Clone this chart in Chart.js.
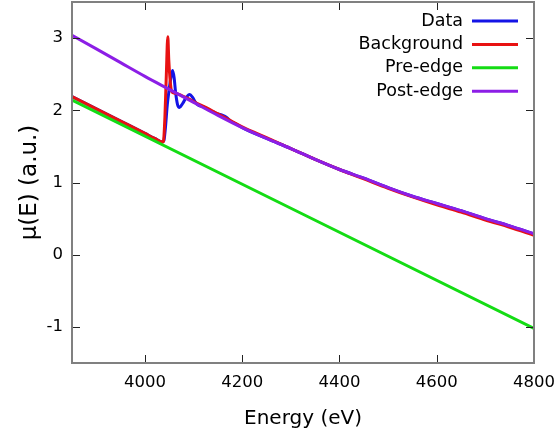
<!DOCTYPE html>
<html>
<head>
<meta charset="utf-8">
<script src="https://cdn.jsdelivr.net/npm/chart.js@4/dist/chart.umd.min.js"></script>
<style>
  body { margin: 0; background: #fff; }
</style>
</head>
<body>
<canvas id="xasChart" width="560" height="436"></canvas>
<script>
// tick values
var xTickVals = [4000, 4200, 4400, 4600, 4800];
var yTickVals = [-1, 0, 1, 2, 3];

var dataE = [3850, 3900, 3950, 4000, 4020, 4036, 4039, 4042, 4046, 4050, 4054, 4057, 4060, 4063, 4067, 4071,
    4078, 4085, 4092, 4098, 4104, 4110, 4120, 4130, 4140, 4150, 4160, 4168, 4176, 4190, 4200,
    4250, 4300, 4350, 4400, 4450, 4500, 4550, 4600, 4650, 4700, 4750, 4800];
var dataMu = [2.19, 2.02, 1.85, 1.68, 1.61, 1.56, 1.58, 1.75, 2.08, 2.30, 2.48, 2.55, 2.45, 2.25, 2.08, 2.04,
    2.10, 2.18, 2.22, 2.18, 2.11, 2.07, 2.05, 2.01, 1.98, 1.95, 1.93, 1.90, 1.85, 1.80, 1.76,
    1.61, 1.47, 1.32, 1.18, 1.06, 0.93, 0.81, 0.71, 0.61, 0.50, 0.40, 0.29];

// background
var bkgE = [3850, 3900, 3950, 4000, 4020, 4036, 4038, 4041, 4044, 4047, 4049, 4052, 4055, 4060, 4070,
    4080, 4090, 4100, 4125, 4150, 4175, 4200, 4250, 4300, 4350, 4400, 4450, 4500, 4550, 4600,
    4650, 4700, 4750, 4800];
var bkgMu = [2.19, 2.02, 1.85, 1.68, 1.61, 1.56, 1.57, 1.90, 2.50, 3.02, 2.70, 2.40, 2.26, 2.24, 2.22,
    2.19, 2.16, 2.12, 2.04, 1.95, 1.86, 1.77, 1.62, 1.47, 1.32, 1.18, 1.05, 0.92, 0.80, 0.69,
    0.59, 0.48, 0.38, 0.27];

// pre-edge line
var preE = [3850, 4800];
var preMu = [2.14, -1.02];

// post-edge curve
var postE = [3850, 3900, 3950, 4000, 4050, 4100, 4150, 4200, 4250, 4300, 4350, 4400, 4450, 4500,
    4550, 4600, 4650, 4700, 4750, 4800];
var postMu = [3.04, 2.85, 2.66, 2.47, 2.29, 2.11, 1.93, 1.76, 1.61, 1.47, 1.32, 1.18, 1.06, 0.93,
    0.81, 0.71, 0.61, 0.50, 0.40, 0.29];

function toPoints(xs, ys) {
    var pts = [];
    for (var i = 0; i < xs.length; i++) {
        pts.push({x: xs[i], y: ys[i]});
    }
    return pts;
}

function series(label, xs, ys, color, order) {
    return {
        label: label,
        data: toPoints(xs, ys),
        borderColor: color,
        backgroundColor: color,
        borderWidth: 3,
        pointRadius: 0,
        cubicInterpolationMode: 'monotone',
        order: order
    };
}

// no extra room for half tick labels, the box is placed by hand
function noPad(scale) {
    scale.paddingTop = 0;
    scale.paddingBottom = 0;
    scale.paddingLeft = 0;
    scale.paddingRight = 0;
}

// gnuplot style box: grey border, inward ticks on all four sides, key top right
var framePlugin = {
    id: 'frame',
    afterDatasetsDraw(chart) {
        var ctx = chart.ctx;
        var a = chart.chartArea;
        var xs = chart.scales.x, ys = chart.scales.y;
        ctx.save();
        ctx.strokeStyle = '#222';
        ctx.lineWidth = 1;
        ctx.beginPath();
        xTickVals.forEach(function (v) {
            var px = Math.round(xs.getPixelForValue(v)) + 0.5;
            ctx.moveTo(px, a.bottom); ctx.lineTo(px, a.bottom - 8);
            ctx.moveTo(px, a.top); ctx.lineTo(px, a.top + 8);
        });
        yTickVals.forEach(function (v) {
            var py = Math.round(ys.getPixelForValue(v)) + 0.5;
            ctx.moveTo(a.left, py); ctx.lineTo(a.left + 8, py);
            ctx.moveTo(a.right, py); ctx.lineTo(a.right - 8, py);
        });
        ctx.stroke();
        ctx.strokeStyle = '#808080';
        ctx.lineWidth = 2;
        ctx.strokeRect(a.left, a.top, a.right - a.left, a.bottom - a.top);

        // key
        ctx.font = '17.5px "DejaVu Sans"';
        ctx.textAlign = 'right';
        ctx.textBaseline = 'middle';
        chart.data.datasets.forEach(function (ds, i) {
            var yy = 21 + i * 23.4;
            ctx.fillStyle = '#000';
            ctx.fillText(ds.label, 463, yy);
            ctx.strokeStyle = ds.borderColor;
            ctx.lineWidth = 3;
            ctx.beginPath();
            ctx.moveTo(472, yy);
            ctx.lineTo(518, yy);
            ctx.stroke();
        });
        ctx.restore();
    }
};

var ctx = document.getElementById('xasChart').getContext('2d');
var chart = new Chart(ctx, {
    type: 'line',
    data: {
        datasets: [
            series('Data', dataE, dataMu, '#1414e6', 4),
            series('Background', bkgE, bkgMu, '#e81212', 3),
            series('Pre-edge', preE, preMu, '#14dc14', 2),
            series('Post-edge', postE, postMu, '#8c1ee6', 1)
        ]
    },
    options: {
        responsive: false,
        animation: false,
        devicePixelRatio: 1,
        layout: {padding: {top: 2, right: 26, left: 0, bottom: 0}},
        plugins: {
            legend: {display: false},
            tooltip: {enabled: false}
        },
        scales: {
            x: {
                type: 'linear',
                min: 3850,
                max: 4800,
                grid: {display: false, drawTicks: false},
                border: {display: false},
                afterBuildTicks: function (scale) {
                    scale.ticks = xTickVals.map(function (v) { return {value: v}; });
                },
                afterFit: function (scale) { scale.height = 73; noPad(scale); },
                ticks: {
                    color: '#000',
                    padding: 10,
                    maxRotation: 0,
                    font: {family: 'DejaVu Sans', size: 16.5},
                    callback: function (value) { return value; }
                },
                title: {
                    display: true,
                    text: 'Energy (eV)',
                    color: '#000',
                    font: {family: 'DejaVu Sans', size: 20},
                    padding: {top: 0, bottom: 5}
                }
            },
            y: {
                type: 'linear',
                min: -1.5,
                max: 3.5,
                grid: {display: false, drawTicks: false},
                border: {display: false},
                afterBuildTicks: function (scale) {
                    scale.ticks = yTickVals.map(function (v) { return {value: v}; });
                },
                afterFit: function (scale) { scale.width = 72; noPad(scale); },
                ticks: {
                    color: '#000',
                    padding: 9,
                    font: {family: 'DejaVu Sans', size: 16.5},
                    callback: function (value) { return value; }
                },
                title: {
                    display: true,
                    text: 'μ(E) (a.u.)',
                    color: '#000',
                    font: {family: 'DejaVu Sans', size: 23},
                    padding: {top: 16, bottom: 0}
                }
            }
        }
    },
    plugins: [framePlugin]
});
</script>
</body>
</html>
